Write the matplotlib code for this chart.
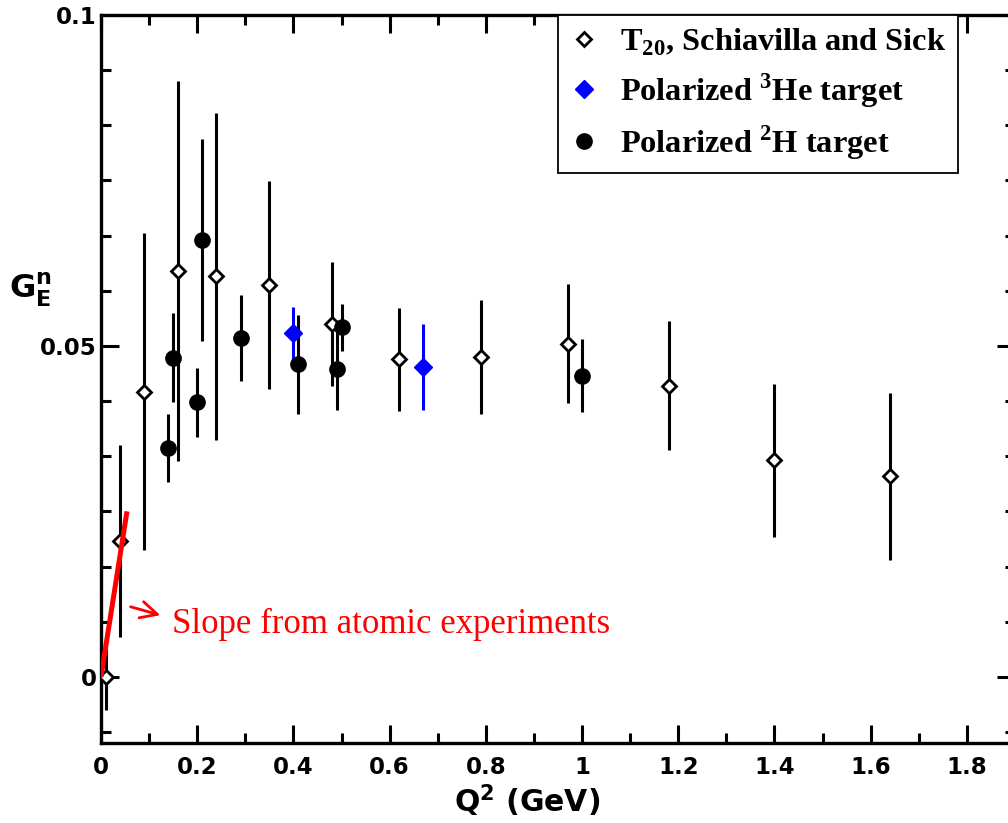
import numpy as np
import matplotlib
matplotlib.use('Agg')
import matplotlib.pyplot as plt
from matplotlib.ticker import MultipleLocator, AutoMinorLocator, FuncFormatter

# T20 extraction, Schiavilla and Sick (open diamonds)
t20_q2 = [0.01, 0.04, 0.09, 0.16, 0.24, 0.35, 0.48, 0.62, 0.79, 0.97, 1.18, 1.40, 1.64]
t20_ge = [0.0, 0.0205, 0.0431, 0.0613, 0.0605, 0.0592, 0.0533, 0.0480, 0.0483, 0.0503, 0.0440, 0.0327, 0.0303]
t20_err = [0.005, 0.0145, 0.024, 0.0287, 0.0247, 0.0157, 0.0094, 0.0078, 0.0086, 0.009, 0.0098, 0.0116, 0.0126]

# polarized 3He target (blue diamonds)
he3_q2 = [0.40, 0.67]
he3_ge = [0.0519, 0.0468]
he3_err = [0.004, 0.0065]

# polarized 2H target (filled circles)
h2_q2 = [0.14, 0.15, 0.20, 0.21, 0.29, 0.41, 0.49, 0.50, 1.00]
h2_ge = [0.0346, 0.0482, 0.0415, 0.0660, 0.0512, 0.0472, 0.0465, 0.0528, 0.0455]
h2_err = [0.0051, 0.0067, 0.0052, 0.0152, 0.0065, 0.0075, 0.0062, 0.0035, 0.0055]

# slope at Q2=0 from neutron-electron scattering
slope_q2 = [0.0, 0.054]
slope_ge = [0.0, 0.025]

plt.rcParams['font.family'] = 'DejaVu Sans'
plt.rcParams['font.weight'] = 'bold'
plt.rcParams['mathtext.fontset'] = 'custom'
plt.rcParams['mathtext.rm'] = 'Liberation Serif:bold'
plt.rcParams['mathtext.sf'] = 'DejaVu Sans:bold'

fig = plt.figure(figsize=(10.08, 8.23), dpi=100)
ax = fig.add_axes([101/1008, 80/823, 914/1008, 728/823])

ax.errorbar(t20_q2, t20_ge, yerr=t20_err, fmt='none', ecolor='black', elinewidth=2.2, zorder=2)
ax.errorbar(he3_q2, he3_ge, yerr=he3_err, fmt='none', ecolor='blue', elinewidth=2.2, zorder=2)
ax.errorbar(h2_q2, h2_ge, yerr=h2_err, fmt='none', ecolor='black', elinewidth=2.2, zorder=2)

ax.plot(t20_q2, t20_ge, ls='none', marker='D', ms=7.5, mfc='white', mec='black', mew=2,
        label=r'T$_{\mathrm{20}}$, Schiavilla and Sick', zorder=3)
ax.plot(he3_q2, he3_ge, ls='none', marker='D', ms=9.5, mfc='blue', mec='blue', mew=1,
        label=r'Polarized $^{\mathrm{3}}$He target', zorder=3)
ax.plot(h2_q2, h2_ge, ls='none', marker='o', ms=11, mfc='black', mec='black',
        label=r'Polarized $^{\mathrm{2}}$H target', zorder=3)

ax.plot(slope_q2, slope_ge, color='red', lw=3.6, solid_capstyle='butt', zorder=4)
ax.annotate('', xy=(0.129, 0.0092), xytext=(0.056, 0.0107),
            arrowprops=dict(arrowstyle='->', color='red', lw=2, mutation_scale=30))
ax.text(0.1475, 0.0066, 'Slope from atomic experiments', color='red', fontsize=25,
        family='Liberation Serif', fontweight='normal', va='baseline')

ax.set_xlim(0, 1.9)
ax.set_ylim(-0.01, 0.1)
ax.xaxis.set_major_locator(MultipleLocator(0.2))
ax.xaxis.set_minor_locator(AutoMinorLocator(2))
ax.yaxis.set_major_locator(MultipleLocator(0.05))
ax.yaxis.set_minor_locator(AutoMinorLocator(6))
fmt = FuncFormatter(lambda v, _: f'{v:g}')
ax.xaxis.set_major_formatter(fmt)
ax.yaxis.set_major_formatter(fmt)

ax.tick_params(which='both', direction='in', top=True, right=True, width=2.2)
ax.tick_params(which='major', length=13, labelsize=16.5)
ax.tick_params(which='minor', length=7)
ax.tick_params(axis='x', which='major', pad=9)
ax.tick_params(axis='y', which='major', pad=3)
for sp in ax.spines.values():
    sp.set_linewidth(2.4)

ax.set_xlabel(r'Q$^{\mathsf{2}}$ (GeV)', fontsize=21.5, fontweight='bold', va='center')
ax.xaxis.set_label_coords(0.466, -0.08)
ax.set_ylabel(r'$\mathsf{G}^{\mathsf{n}}_{\mathsf{E}}$', fontsize=23, rotation=0,
              ha='center', va='center')
ax.yaxis.set_label_coords(-0.077, 0.622)

leg = ax.legend(loc='upper right', bbox_to_anchor=(0.9377, 1.0), borderaxespad=0,
                fancybox=False, framealpha=1, edgecolor='black',
                prop={'family': 'Liberation Serif', 'weight': 'bold', 'size': 23.3},
                handlelength=0.85, handletextpad=0.7, labelspacing=0.4, borderpad=0.36)
leg.get_frame().set_linewidth(1.3)

fig.savefig('out.png', dpi=100)
